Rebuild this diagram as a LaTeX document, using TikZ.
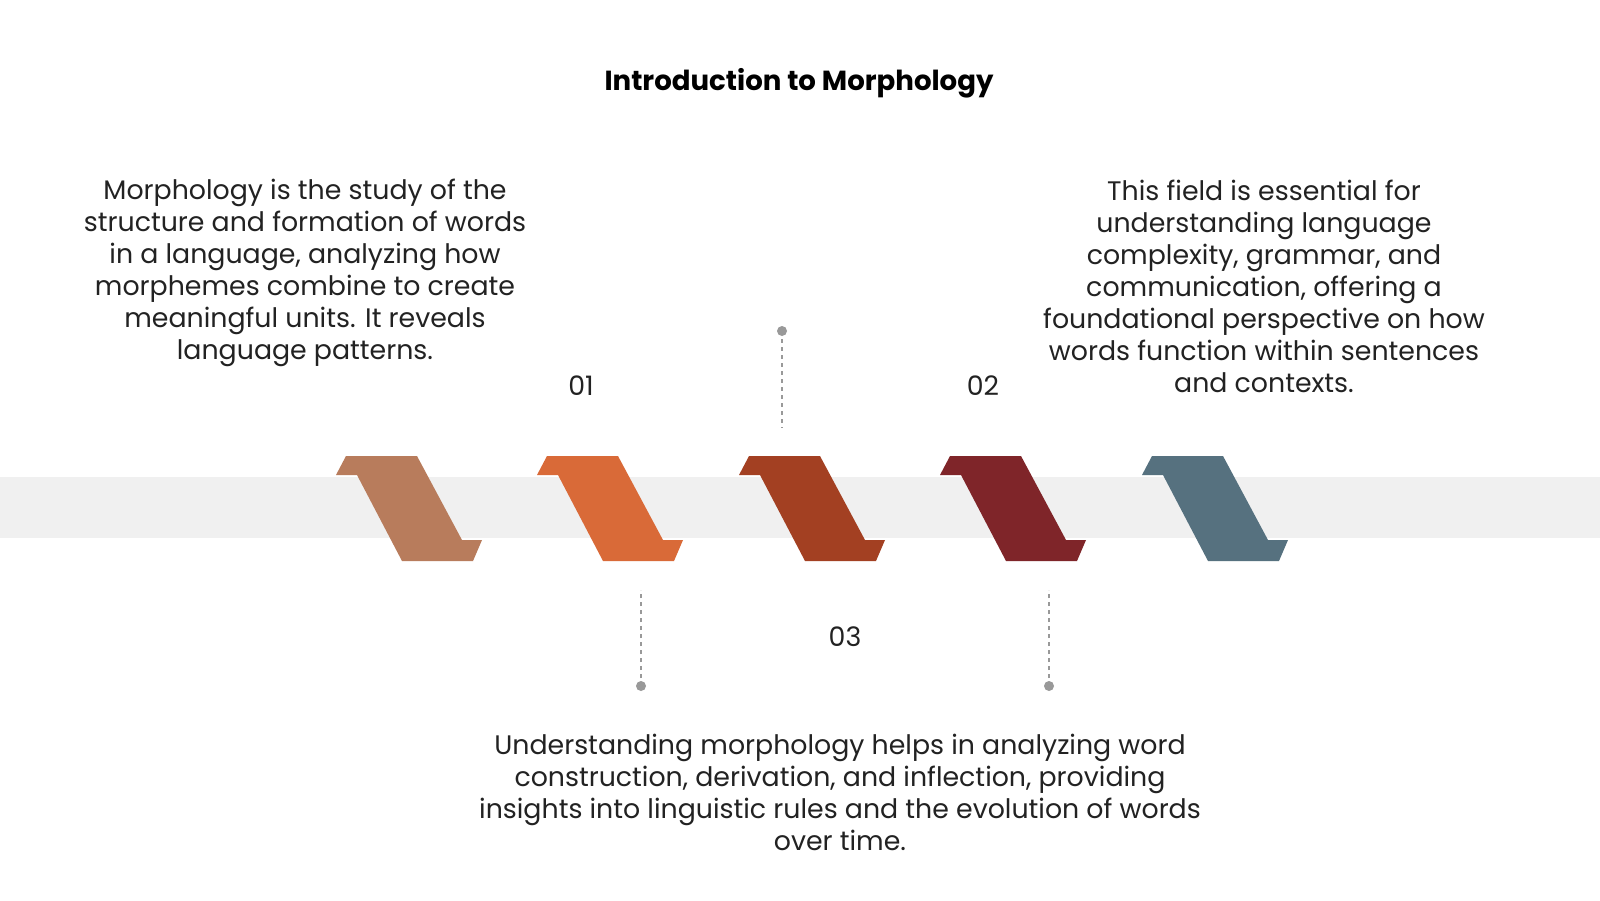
\documentclass[tikz,border=0pt]{standalone}
\usepackage{fontspec}
\setmainfont{Poppins}
\definecolor{bandgray}{HTML}{F0F0F0}
\definecolor{cA}{HTML}{B87C5C}
\definecolor{cB}{HTML}{D96A38}
\definecolor{cC}{HTML}{A34022}
\definecolor{cD}{HTML}{7F2529}
\definecolor{cE}{HTML}{56717F}
\definecolor{txt}{HTML}{222222}
\definecolor{dotgray}{HTML}{999999}
\tikzset{
  body/.style={align=center, text=txt, font=\fontsize{13.4}{16}\selectfont, inner sep=0pt},
  numlabel/.style={text=txt, font=\fontsize{13.4}{16}\selectfont, inner sep=0pt},
  title/.style={text=black, font=\fontsize{13.8}{16}\selectfont\bfseries, inner sep=0pt},
  leader/.style={draw=dotgray, line width=0.6pt, dash pattern=on 2pt off 2pt},
  enddot/.style={fill=dotgray}
}
\newcommand{\chevshape}[2]{%
  \fill[#2] (#1,475) -- ++(10,-19) -- ++(71,0) -- ++(45,84) -- ++(20,0)
    -- ++(-9,21) -- ++(-71,0) -- ++(-45,-86) -- cycle;}
\begin{document}
\begin{tikzpicture}[x=0.5pt,y=-0.5pt]
\useasboundingbox (0,0) rectangle (1600,900);
\fill[white] (0,0) rectangle (1600,900);
% band
\fill[bandgray] (0,477) rectangle (1600,538);
% shapes
\chevshape{336}{cA}
\chevshape{537}{cB}
\chevshape{739}{cC}
\chevshape{940}{cD}
\chevshape{1142}{cE}
% title
\node[title] (title) at (799,83) {Introduction to Morphology};
% texts
\node[body] (left) at (305,273) {Morphology is the study of the\\structure and formation of words\\in a language, analyzing how\\morphemes combine to create\\meaningful units. It reveals\\language patterns.};
\node[body] (right) at (1264,286) {This field is essential for\\understanding language\\complexity, grammar, and\\communication, offering a\\foundational perspective on how\\words function within sentences\\and contexts.};
\node[body] (bottom) at (840,792) {Understanding morphology helps in analyzing word\\construction, derivation, and inflection, providing\\insights into linguistic rules and the evolution of words\\over time.};
% numbers
\node[numlabel] (n1) at (581,386) {01};
\node[numlabel] (n2) at (983,386) {02};
\node[numlabel] (n3) at (845,637) {03};
% leaders
\coordinate (t1) at (782,331);
\coordinate (t1e) at (782,428);
\coordinate (b1) at (641,686);
\coordinate (b1e) at (641,590);
\coordinate (b2) at (1049,686);
\coordinate (b2e) at (1049,590);
\draw[leader] (t1) -- (t1e);
\draw[leader] (b1) -- (b1e);
\draw[leader] (b2) -- (b2e);
\fill[enddot] (t1) circle (5);
\fill[enddot] (b1) circle (5);
\fill[enddot] (b2) circle (5);
\end{tikzpicture}
\end{document}
